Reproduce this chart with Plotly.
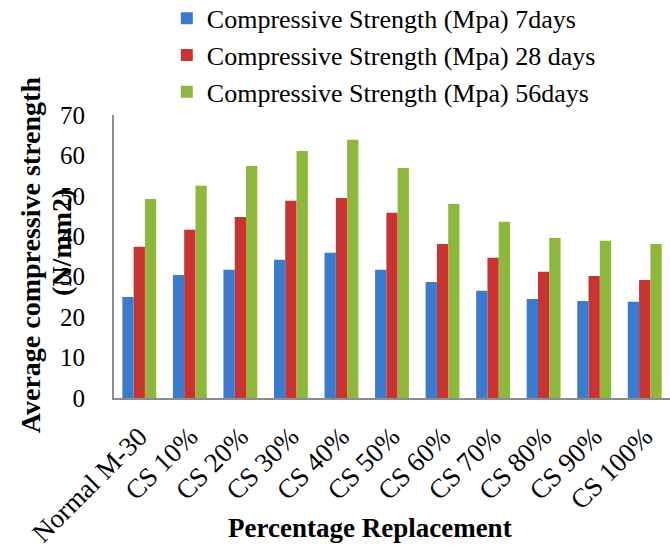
import plotly.graph_objects as go

categories = ["Normal M-30", "CS 10%", "CS 20%", "CS 30%", "CS 40%", "CS 50%",
              "CS 60%", "CS 70%", "CS 80%", "CS 90%", "CS 100%"]
days7 = [25.0, 30.4, 31.7, 34.2, 35.9, 31.7, 28.7, 26.5, 24.5, 24.0, 23.8]
days28 = [37.4, 41.6, 44.8, 48.8, 49.5, 45.8, 38.1, 34.7, 31.2, 30.2, 29.2]
days56 = [49.2, 52.5, 57.4, 61.1, 63.9, 56.9, 48.0, 43.6, 39.6, 38.9, 38.1]
series_names = ["Compressive Strength (Mpa) 7days",
                "Compressive Strength (Mpa) 28 days",
                "Compressive Strength (Mpa) 56days"]
colors = ["#3A7BD0", "#C93431", "#8DB83B"]

FONT = "Liberation Serif"

fig = go.Figure()
for name, vals, col in zip(series_names, [days7, days28, days56], colors):
    fig.add_trace(go.Bar(x=categories, y=vals, name=name,
                         marker=dict(color=col, line=dict(width=0))))

fig.update_layout(
    width=670, height=551,
    margin=dict(l=114, r=0, t=115, b=153, autoexpand=False),
    paper_bgcolor="white", plot_bgcolor="white",
    barmode="group", bargap=0.33, bargroupgap=0.0,
    font=dict(family=FONT, color="black", size=22),
    showlegend=True,
    legend=dict(x=0.095, y=1.425, xanchor="left", yanchor="top",
                font=dict(family=FONT, size=26, color="black"),
                bgcolor="rgba(0,0,0,0)", tracegroupgap=0, itemwidth=30),
    xaxis=dict(showline=True, linecolor="#8c8c8c", linewidth=2,
               tickangle=-45, tickfont=dict(family=FONT, size=27),
               ticks="", showgrid=False, ticklabelstandoff=10),
    yaxis=dict(range=[0, 70], dtick=10, showline=True, linecolor="#8c8c8c",
               linewidth=2, showgrid=False, ticks="",
               tickfont=dict(family=FONT, size=25), ticklabelstandoff=22),
    annotations=[
        dict(text="<b>Average compressive strength</b>",
             xref="paper", yref="paper", x=-0.151, y=0.505,
             xanchor="center", yanchor="middle", textangle=-90,
             showarrow=False, font=dict(family=FONT, size=28, color="black")),
        dict(text="<b>(N/mm2)</b>",
             xref="paper", yref="paper", x=-0.0935, y=0.548,
             xanchor="center", yanchor="middle", textangle=-90,
             showarrow=False, font=dict(family=FONT, size=28, color="black")),
        dict(text="<b>Percentage Replacement</b>",
             xref="paper", yref="paper", x=0.46, y=-0.46,
             xanchor="center", yanchor="middle",
             showarrow=False, font=dict(family=FONT, size=27, color="black")),
    ],
)

fig.write_html("out.html")
